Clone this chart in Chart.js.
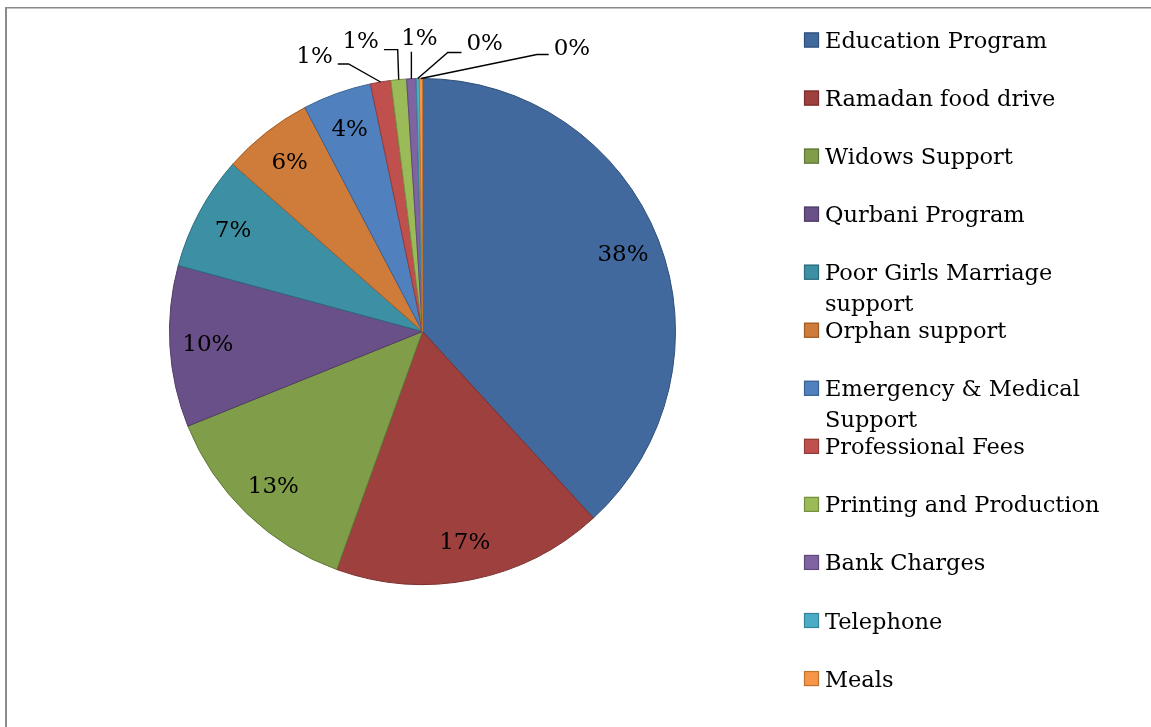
<!DOCTYPE html>
<html>
<head>
<meta charset="utf-8">
<script src="https://cdn.jsdelivr.net/npm/chart.js@4/dist/chart.umd.min.js"></script>
<style>
  html, body { margin: 0; padding: 0; background: #ffffff; }
  #wrap { position: relative; width: 1151px; height: 727px; }
</style>
</head>
<body>
<div id="wrap"><canvas id="c"></canvas></div>
<script>
// ---- data ----
const categories = [
  'Education Program', 'Ramadan food drive', 'Widows Support', 'Qurbani Program',
  'Poor Girls Marriage support', 'Orphan support', 'Emergency & Medical Support',
  'Professional Fees', 'Printing and Production', 'Bank Charges', 'Telephone', 'Meals'
];
const shares = [38.2, 17.3, 13.4, 10.3, 7.3, 5.8, 4.4, 1.3, 1.0, 0.6, 0.2, 0.2];

// ---- styles ----
const fills = ['#41699d', '#9e403e', '#809d49', '#6a5088', '#3d8fa4', '#cf7c3a',
               '#5081be', '#c0504d', '#9bbb59', '#8064a2', '#4bacc6', '#f79646'];
const edges = ['#2f4f78', '#7a2f2d', '#607737', '#4f3b66', '#2c6b7c', '#a05c27',
               '#3b6191', '#933b39', '#76903f', '#5f4a7a', '#35849a', '#c0722f'];
const LABEL_FONT = '23px "DejaVu Serif", serif';
const LEGEND_FONT = '22.5px "DejaVu Serif", serif';

// leader line layout for the small outside labels: offsets from the slice's outer edge point
const outsideLabels = {
  7:  { label: [-66, -26], elbow: [-32, -18] },
  8:  { label: [-38, -39], elbow: [-1, -30] },
  9:  { label: [8, -41],   elbow: [0, -27] },
  10: { label: [67, -36],  elbow: [30, -26] },
  11: { label: [151, -30], elbow: [116, -24] }
};

const framePlugin = {
  id: 'frame',
  beforeDraw(chart) {
    const ctx = chart.ctx;
    ctx.save();
    ctx.fillStyle = '#8a8a8a';
    ctx.fillRect(5, 7, 2, chart.height - 7);
    ctx.fillRect(5, 7, chart.width - 5, 1.5);
    ctx.restore();
  }
};

const labelPlugin = {
  id: 'pieLabels',
  afterDatasetsDraw(chart) {
    const ctx = chart.ctx;
    const meta = chart.getDatasetMeta(0);
    const data = chart.data.datasets[0].data;
    const total = data.reduce((a, b) => a + b, 0);
    ctx.save();
    ctx.font = LABEL_FONT;
    ctx.fillStyle = '#000';
    ctx.textAlign = 'center';
    ctx.textBaseline = 'middle';
    ctx.strokeStyle = '#000';
    ctx.lineWidth = 1.4;
    meta.data.forEach((arc, i) => {
      const p = arc.getProps(['x', 'y', 'startAngle', 'endAngle', 'outerRadius'], true);
      const mid = (p.startAngle + p.endAngle) / 2;
      const txt = Math.round(data[i] / total * 100) + '%';
      const cfg = outsideLabels[i];
      if (!cfg) {
        const r = p.outerRadius * 0.85;
        ctx.fillText(txt, p.x + Math.cos(mid) * r, p.y + Math.sin(mid) * r + 1);
      } else {
        const ex = p.x + Math.cos(mid) * p.outerRadius;
        const ey = p.y + Math.sin(mid) * p.outerRadius;
        const lx = ex + cfg.label[0], ly = ey + cfg.label[1];
        const bx = ex + cfg.elbow[0], by = ey + cfg.elbow[1];
        const hw = ctx.measureText(txt).width / 2;
        let endX;
        if (Math.abs(bx - lx) < hw) endX = bx;
        else if (lx < bx) endX = lx + hw + 5;
        else endX = lx - hw - 5;
        ctx.beginPath();
        ctx.moveTo(ex, ey);
        ctx.lineTo(bx, by);
        ctx.lineTo(endX, by);
        ctx.stroke();
        ctx.fillText(txt, lx, ly + 1);
      }
    });
    ctx.restore();
  }
};

const legendPlugin = {
  id: 'sideLegend',
  afterDraw(chart) {
    const ctx = chart.ctx;
    const ds = chart.data.datasets[0];
    const x0 = 804, textX = 825, top = 39.5, step = 58.05, lineH = 31, maxW = 315;
    ctx.save();
    ctx.font = LEGEND_FONT;
    ctx.textAlign = 'left';
    ctx.textBaseline = 'alphabetic';
    chart.data.labels.forEach((lab, i) => {
      const cy = top + step * i;
      ctx.fillStyle = ds.backgroundColor[i];
      ctx.fillRect(x0, cy - 7, 15, 15);
      ctx.strokeStyle = ds.borderColor[i];
      ctx.lineWidth = 1.2;
      ctx.strokeRect(x0 + 0.5, cy - 6.5, 14, 14);
      // word wrap
      const words = lab.split(' ');
      const lines = [];
      let cur = '';
      words.forEach(w => {
        const t = cur ? cur + ' ' + w : w;
        if (ctx.measureText(t).width > maxW && cur) { lines.push(cur); cur = w; }
        else cur = t;
      });
      lines.push(cur);
      ctx.fillStyle = '#000';
      lines.forEach((ln, k) => ctx.fillText(ln, textX, cy + 8.5 + k * lineH));
    });
    ctx.restore();
  }
};

new Chart(document.getElementById('c'), {
  type: 'pie',
  data: {
    labels: categories,
    datasets: [{
      data: shares,
      backgroundColor: fills,
      borderColor: edges,
      borderWidth: 1
    }]
  },
  options: {
    responsive: true,
    maintainAspectRatio: false,
    animation: false,
    layout: { padding: { left: 169, right: 475, top: 78, bottom: 142 } },
    plugins: {
      legend: { display: false },
      tooltip: { enabled: false }
    }
  },
  plugins: [framePlugin, labelPlugin, legendPlugin]
});
</script>
</body>
</html>
